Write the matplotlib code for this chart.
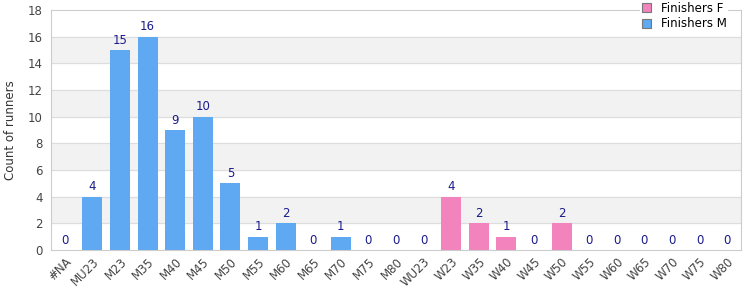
import matplotlib.pyplot as plt
import numpy as np

categories = ['#NA', 'MU23', 'M23', 'M35', 'M40', 'M45', 'M50', 'M55', 'M60', 'M65',
              'M70', 'M75', 'M80', 'WU23', 'W23', 'W35', 'W40', 'W45', 'W50', 'W55',
              'W60', 'W65', 'W70', 'W75', 'W80']
finishers_m = [0, 4, 15, 16, 9, 10, 5, 1, 2, 0, 1, 0, 0, 0,
               0, 0, 0, 0, 0, 0, 0, 0, 0, 0, 0]
finishers_f = [0, 0, 0, 0, 0, 0, 0, 0, 0, 0, 0, 0, 0, 0,
               4, 2, 1, 0, 2, 0, 0, 0, 0, 0, 0]

blue = '#5fa8f2'
pink = '#f283bc'

fig, ax = plt.subplots(figsize=(7.5, 3), dpi=100)
fig.subplots_adjust(left=0.068, right=0.988, top=0.967, bottom=0.167)

x = np.arange(len(categories))
ax.set_xlim(-0.5, len(categories) - 0.5)
ax.set_ylim(0, 18)

# alternating bands
for lo in range(2, 18, 4):
    ax.axhspan(lo, lo + 2, color='#f2f2f2', zorder=0)
for y in range(2, 18, 2):
    ax.axhline(y, color='#dddddd', lw=0.8, zorder=1)

ax.bar(x, finishers_f, width=0.72, color=pink, label='Finishers F', zorder=2)
ax.bar(x, finishers_m, width=0.72, bottom=finishers_f, color=blue, label='Finishers M', zorder=2)

totals = [m + f for m, f in zip(finishers_m, finishers_f)]
for xi, t in zip(x, totals):
    ax.text(xi, t + 0.25, str(t), ha='center', va='bottom', fontsize=8.5, color='#1a1a8c')

ax.set_xticks(x)
ax.set_xticklabels(categories, rotation=45, ha='right', rotation_mode='anchor',
                   fontsize=8.5, color='#444444')
ax.set_yticks(range(0, 19, 2))
ax.tick_params(axis='y', labelsize=8.5, labelcolor='#444444', length=0, pad=6)
ax.tick_params(axis='x', length=0, pad=4)
ax.set_ylabel('Count of runners', fontsize=8.5, color='#333333', labelpad=8)

for s in ax.spines.values():
    s.set_color('#cccccc')
    s.set_linewidth(0.8)

leg = ax.legend(loc='upper right', bbox_to_anchor=(0.99, 1.065), fontsize=8.5,
                frameon=True, fancybox=False, edgecolor='none', framealpha=1,
                handlelength=0.8, handleheight=0.8, borderpad=0.15, labelspacing=0.2)
for h in leg.legend_handles:
    h.set_edgecolor('#777777')
    h.set_linewidth(0.8)
leg.set_zorder(5)

fig.savefig('out.png')
